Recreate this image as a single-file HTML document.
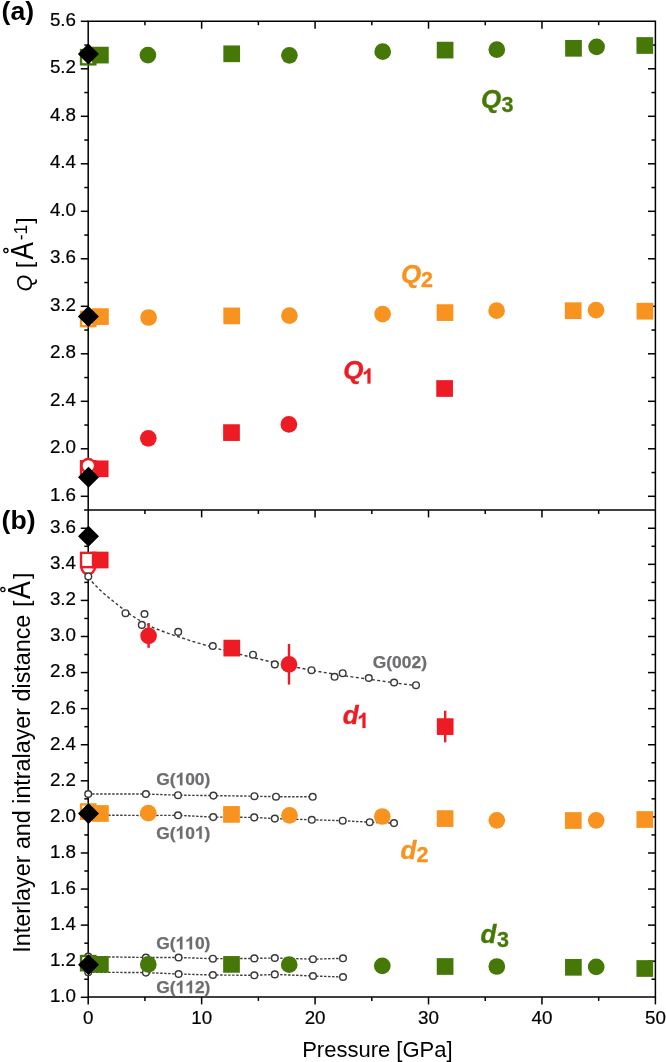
<!DOCTYPE html>
<html><head><meta charset="utf-8"><title>Figure</title>
<style>html,body{margin:0;padding:0;background:#fff}svg{display:block;will-change:transform}text{font-family:'Liberation Sans',sans-serif}</style>
</head><body>
<svg width="666" height="1062" viewBox="0 0 666 1062">
<rect width="666" height="1062" fill="#fff"/>
<path d="M88.20 21.30H655.40V997.00H88.20Z" fill="none" stroke="#000" stroke-width="1.5"/>
<line x1="84.10" y1="510.00" x2="655.40" y2="510.00" stroke="#000" stroke-width="1.5" />
<line x1="88.20" y1="997.00" x2="88.20" y2="1004.40" stroke="#000" stroke-width="1.5" />
<text x="88.20" y="1024.20" font-size="18.8" text-anchor="middle" font-weight="normal" font-style="normal" fill="#000" stroke="#000" stroke-width="0.2">0</text>
<line x1="144.92" y1="21.30" x2="144.92" y2="25.20" stroke="#000" stroke-width="1.5" />
<line x1="144.92" y1="510.00" x2="144.92" y2="513.90" stroke="#000" stroke-width="1.5" />
<line x1="144.92" y1="997.00" x2="144.92" y2="1000.90" stroke="#000" stroke-width="1.5" />
<line x1="201.64" y1="21.30" x2="201.64" y2="28.70" stroke="#000" stroke-width="1.5" />
<line x1="201.64" y1="510.00" x2="201.64" y2="517.40" stroke="#000" stroke-width="1.5" />
<line x1="201.64" y1="997.00" x2="201.64" y2="1004.40" stroke="#000" stroke-width="1.5" />
<text x="201.64" y="1024.20" font-size="18.8" text-anchor="middle" font-weight="normal" font-style="normal" fill="#000" stroke="#000" stroke-width="0.2">10</text>
<line x1="258.36" y1="21.30" x2="258.36" y2="25.20" stroke="#000" stroke-width="1.5" />
<line x1="258.36" y1="510.00" x2="258.36" y2="513.90" stroke="#000" stroke-width="1.5" />
<line x1="258.36" y1="997.00" x2="258.36" y2="1000.90" stroke="#000" stroke-width="1.5" />
<line x1="315.08" y1="21.30" x2="315.08" y2="28.70" stroke="#000" stroke-width="1.5" />
<line x1="315.08" y1="510.00" x2="315.08" y2="517.40" stroke="#000" stroke-width="1.5" />
<line x1="315.08" y1="997.00" x2="315.08" y2="1004.40" stroke="#000" stroke-width="1.5" />
<text x="315.08" y="1024.20" font-size="18.8" text-anchor="middle" font-weight="normal" font-style="normal" fill="#000" stroke="#000" stroke-width="0.2">20</text>
<line x1="371.80" y1="21.30" x2="371.80" y2="25.20" stroke="#000" stroke-width="1.5" />
<line x1="371.80" y1="510.00" x2="371.80" y2="513.90" stroke="#000" stroke-width="1.5" />
<line x1="371.80" y1="997.00" x2="371.80" y2="1000.90" stroke="#000" stroke-width="1.5" />
<line x1="428.52" y1="21.30" x2="428.52" y2="28.70" stroke="#000" stroke-width="1.5" />
<line x1="428.52" y1="510.00" x2="428.52" y2="517.40" stroke="#000" stroke-width="1.5" />
<line x1="428.52" y1="997.00" x2="428.52" y2="1004.40" stroke="#000" stroke-width="1.5" />
<text x="428.52" y="1024.20" font-size="18.8" text-anchor="middle" font-weight="normal" font-style="normal" fill="#000" stroke="#000" stroke-width="0.2">30</text>
<line x1="485.24" y1="21.30" x2="485.24" y2="25.20" stroke="#000" stroke-width="1.5" />
<line x1="485.24" y1="510.00" x2="485.24" y2="513.90" stroke="#000" stroke-width="1.5" />
<line x1="485.24" y1="997.00" x2="485.24" y2="1000.90" stroke="#000" stroke-width="1.5" />
<line x1="541.96" y1="21.30" x2="541.96" y2="28.70" stroke="#000" stroke-width="1.5" />
<line x1="541.96" y1="510.00" x2="541.96" y2="517.40" stroke="#000" stroke-width="1.5" />
<line x1="541.96" y1="997.00" x2="541.96" y2="1004.40" stroke="#000" stroke-width="1.5" />
<text x="541.96" y="1024.20" font-size="18.8" text-anchor="middle" font-weight="normal" font-style="normal" fill="#000" stroke="#000" stroke-width="0.2">40</text>
<line x1="598.68" y1="21.30" x2="598.68" y2="25.20" stroke="#000" stroke-width="1.5" />
<line x1="598.68" y1="510.00" x2="598.68" y2="513.90" stroke="#000" stroke-width="1.5" />
<line x1="598.68" y1="997.00" x2="598.68" y2="1000.90" stroke="#000" stroke-width="1.5" />
<line x1="655.40" y1="997.00" x2="655.40" y2="1004.40" stroke="#000" stroke-width="1.5" />
<text x="655.40" y="1024.20" font-size="18.8" text-anchor="middle" font-weight="normal" font-style="normal" fill="#000" stroke="#000" stroke-width="0.2">50</text>
<line x1="80.80" y1="21.30" x2="88.20" y2="21.30" stroke="#000" stroke-width="1.5" />
<text x="76.00" y="25.80" font-size="18.8" text-anchor="end" font-weight="normal" font-style="normal" fill="#000" stroke="#000" stroke-width="0.2">5.6</text>
<line x1="84.30" y1="45.05" x2="88.20" y2="45.05" stroke="#000" stroke-width="1.5" />
<line x1="651.50" y1="45.05" x2="655.40" y2="45.05" stroke="#000" stroke-width="1.5" />
<line x1="80.80" y1="68.80" x2="88.20" y2="68.80" stroke="#000" stroke-width="1.5" />
<line x1="648.00" y1="68.80" x2="655.40" y2="68.80" stroke="#000" stroke-width="1.5" />
<text x="76.00" y="73.30" font-size="18.8" text-anchor="end" font-weight="normal" font-style="normal" fill="#000" stroke="#000" stroke-width="0.2">5.2</text>
<line x1="84.30" y1="92.55" x2="88.20" y2="92.55" stroke="#000" stroke-width="1.5" />
<line x1="651.50" y1="92.55" x2="655.40" y2="92.55" stroke="#000" stroke-width="1.5" />
<line x1="80.80" y1="116.30" x2="88.20" y2="116.30" stroke="#000" stroke-width="1.5" />
<line x1="648.00" y1="116.30" x2="655.40" y2="116.30" stroke="#000" stroke-width="1.5" />
<text x="76.00" y="120.80" font-size="18.8" text-anchor="end" font-weight="normal" font-style="normal" fill="#000" stroke="#000" stroke-width="0.2">4.8</text>
<line x1="84.30" y1="140.05" x2="88.20" y2="140.05" stroke="#000" stroke-width="1.5" />
<line x1="651.50" y1="140.05" x2="655.40" y2="140.05" stroke="#000" stroke-width="1.5" />
<line x1="80.80" y1="163.80" x2="88.20" y2="163.80" stroke="#000" stroke-width="1.5" />
<line x1="648.00" y1="163.80" x2="655.40" y2="163.80" stroke="#000" stroke-width="1.5" />
<text x="76.00" y="168.30" font-size="18.8" text-anchor="end" font-weight="normal" font-style="normal" fill="#000" stroke="#000" stroke-width="0.2">4.4</text>
<line x1="84.30" y1="187.55" x2="88.20" y2="187.55" stroke="#000" stroke-width="1.5" />
<line x1="651.50" y1="187.55" x2="655.40" y2="187.55" stroke="#000" stroke-width="1.5" />
<line x1="80.80" y1="211.30" x2="88.20" y2="211.30" stroke="#000" stroke-width="1.5" />
<line x1="648.00" y1="211.30" x2="655.40" y2="211.30" stroke="#000" stroke-width="1.5" />
<text x="76.00" y="215.80" font-size="18.8" text-anchor="end" font-weight="normal" font-style="normal" fill="#000" stroke="#000" stroke-width="0.2">4.0</text>
<line x1="84.30" y1="235.05" x2="88.20" y2="235.05" stroke="#000" stroke-width="1.5" />
<line x1="651.50" y1="235.05" x2="655.40" y2="235.05" stroke="#000" stroke-width="1.5" />
<line x1="80.80" y1="258.80" x2="88.20" y2="258.80" stroke="#000" stroke-width="1.5" />
<line x1="648.00" y1="258.80" x2="655.40" y2="258.80" stroke="#000" stroke-width="1.5" />
<text x="76.00" y="263.30" font-size="18.8" text-anchor="end" font-weight="normal" font-style="normal" fill="#000" stroke="#000" stroke-width="0.2">3.6</text>
<line x1="84.30" y1="282.55" x2="88.20" y2="282.55" stroke="#000" stroke-width="1.5" />
<line x1="651.50" y1="282.55" x2="655.40" y2="282.55" stroke="#000" stroke-width="1.5" />
<line x1="80.80" y1="306.30" x2="88.20" y2="306.30" stroke="#000" stroke-width="1.5" />
<line x1="648.00" y1="306.30" x2="655.40" y2="306.30" stroke="#000" stroke-width="1.5" />
<text x="76.00" y="310.80" font-size="18.8" text-anchor="end" font-weight="normal" font-style="normal" fill="#000" stroke="#000" stroke-width="0.2">3.2</text>
<line x1="84.30" y1="330.05" x2="88.20" y2="330.05" stroke="#000" stroke-width="1.5" />
<line x1="651.50" y1="330.05" x2="655.40" y2="330.05" stroke="#000" stroke-width="1.5" />
<line x1="80.80" y1="353.80" x2="88.20" y2="353.80" stroke="#000" stroke-width="1.5" />
<line x1="648.00" y1="353.80" x2="655.40" y2="353.80" stroke="#000" stroke-width="1.5" />
<text x="76.00" y="358.30" font-size="18.8" text-anchor="end" font-weight="normal" font-style="normal" fill="#000" stroke="#000" stroke-width="0.2">2.8</text>
<line x1="84.30" y1="377.55" x2="88.20" y2="377.55" stroke="#000" stroke-width="1.5" />
<line x1="651.50" y1="377.55" x2="655.40" y2="377.55" stroke="#000" stroke-width="1.5" />
<line x1="80.80" y1="401.30" x2="88.20" y2="401.30" stroke="#000" stroke-width="1.5" />
<line x1="648.00" y1="401.30" x2="655.40" y2="401.30" stroke="#000" stroke-width="1.5" />
<text x="76.00" y="405.80" font-size="18.8" text-anchor="end" font-weight="normal" font-style="normal" fill="#000" stroke="#000" stroke-width="0.2">2.4</text>
<line x1="84.30" y1="425.05" x2="88.20" y2="425.05" stroke="#000" stroke-width="1.5" />
<line x1="651.50" y1="425.05" x2="655.40" y2="425.05" stroke="#000" stroke-width="1.5" />
<line x1="80.80" y1="448.80" x2="88.20" y2="448.80" stroke="#000" stroke-width="1.5" />
<line x1="648.00" y1="448.80" x2="655.40" y2="448.80" stroke="#000" stroke-width="1.5" />
<text x="76.00" y="453.30" font-size="18.8" text-anchor="end" font-weight="normal" font-style="normal" fill="#000" stroke="#000" stroke-width="0.2">2.0</text>
<line x1="84.30" y1="472.55" x2="88.20" y2="472.55" stroke="#000" stroke-width="1.5" />
<line x1="651.50" y1="472.55" x2="655.40" y2="472.55" stroke="#000" stroke-width="1.5" />
<line x1="80.80" y1="496.30" x2="88.20" y2="496.30" stroke="#000" stroke-width="1.5" />
<line x1="648.00" y1="496.30" x2="655.40" y2="496.30" stroke="#000" stroke-width="1.5" />
<text x="76.00" y="500.80" font-size="18.8" text-anchor="end" font-weight="normal" font-style="normal" fill="#000" stroke="#000" stroke-width="0.2">1.6</text>
<line x1="80.80" y1="528.26" x2="88.20" y2="528.26" stroke="#000" stroke-width="1.5" />
<line x1="648.00" y1="528.26" x2="655.40" y2="528.26" stroke="#000" stroke-width="1.5" />
<text x="76.00" y="533.16" font-size="18.8" text-anchor="end" font-weight="normal" font-style="normal" fill="#000" stroke="#000" stroke-width="0.2">3.6</text>
<line x1="84.30" y1="546.30" x2="88.20" y2="546.30" stroke="#000" stroke-width="1.5" />
<line x1="651.50" y1="546.30" x2="655.40" y2="546.30" stroke="#000" stroke-width="1.5" />
<line x1="80.80" y1="564.34" x2="88.20" y2="564.34" stroke="#000" stroke-width="1.5" />
<line x1="648.00" y1="564.34" x2="655.40" y2="564.34" stroke="#000" stroke-width="1.5" />
<text x="76.00" y="569.24" font-size="18.8" text-anchor="end" font-weight="normal" font-style="normal" fill="#000" stroke="#000" stroke-width="0.2">3.4</text>
<line x1="84.30" y1="582.38" x2="88.20" y2="582.38" stroke="#000" stroke-width="1.5" />
<line x1="651.50" y1="582.38" x2="655.40" y2="582.38" stroke="#000" stroke-width="1.5" />
<line x1="80.80" y1="600.42" x2="88.20" y2="600.42" stroke="#000" stroke-width="1.5" />
<line x1="648.00" y1="600.42" x2="655.40" y2="600.42" stroke="#000" stroke-width="1.5" />
<text x="76.00" y="605.32" font-size="18.8" text-anchor="end" font-weight="normal" font-style="normal" fill="#000" stroke="#000" stroke-width="0.2">3.2</text>
<line x1="84.30" y1="618.46" x2="88.20" y2="618.46" stroke="#000" stroke-width="1.5" />
<line x1="651.50" y1="618.46" x2="655.40" y2="618.46" stroke="#000" stroke-width="1.5" />
<line x1="80.80" y1="636.50" x2="88.20" y2="636.50" stroke="#000" stroke-width="1.5" />
<line x1="648.00" y1="636.50" x2="655.40" y2="636.50" stroke="#000" stroke-width="1.5" />
<text x="76.00" y="641.40" font-size="18.8" text-anchor="end" font-weight="normal" font-style="normal" fill="#000" stroke="#000" stroke-width="0.2">3.0</text>
<line x1="84.30" y1="654.54" x2="88.20" y2="654.54" stroke="#000" stroke-width="1.5" />
<line x1="651.50" y1="654.54" x2="655.40" y2="654.54" stroke="#000" stroke-width="1.5" />
<line x1="80.80" y1="672.58" x2="88.20" y2="672.58" stroke="#000" stroke-width="1.5" />
<line x1="648.00" y1="672.58" x2="655.40" y2="672.58" stroke="#000" stroke-width="1.5" />
<text x="76.00" y="677.48" font-size="18.8" text-anchor="end" font-weight="normal" font-style="normal" fill="#000" stroke="#000" stroke-width="0.2">2.8</text>
<line x1="84.30" y1="690.62" x2="88.20" y2="690.62" stroke="#000" stroke-width="1.5" />
<line x1="651.50" y1="690.62" x2="655.40" y2="690.62" stroke="#000" stroke-width="1.5" />
<line x1="80.80" y1="708.66" x2="88.20" y2="708.66" stroke="#000" stroke-width="1.5" />
<line x1="648.00" y1="708.66" x2="655.40" y2="708.66" stroke="#000" stroke-width="1.5" />
<text x="76.00" y="713.56" font-size="18.8" text-anchor="end" font-weight="normal" font-style="normal" fill="#000" stroke="#000" stroke-width="0.2">2.6</text>
<line x1="84.30" y1="726.70" x2="88.20" y2="726.70" stroke="#000" stroke-width="1.5" />
<line x1="651.50" y1="726.70" x2="655.40" y2="726.70" stroke="#000" stroke-width="1.5" />
<line x1="80.80" y1="744.74" x2="88.20" y2="744.74" stroke="#000" stroke-width="1.5" />
<line x1="648.00" y1="744.74" x2="655.40" y2="744.74" stroke="#000" stroke-width="1.5" />
<text x="76.00" y="749.64" font-size="18.8" text-anchor="end" font-weight="normal" font-style="normal" fill="#000" stroke="#000" stroke-width="0.2">2.4</text>
<line x1="84.30" y1="762.78" x2="88.20" y2="762.78" stroke="#000" stroke-width="1.5" />
<line x1="651.50" y1="762.78" x2="655.40" y2="762.78" stroke="#000" stroke-width="1.5" />
<line x1="80.80" y1="780.82" x2="88.20" y2="780.82" stroke="#000" stroke-width="1.5" />
<line x1="648.00" y1="780.82" x2="655.40" y2="780.82" stroke="#000" stroke-width="1.5" />
<text x="76.00" y="785.72" font-size="18.8" text-anchor="end" font-weight="normal" font-style="normal" fill="#000" stroke="#000" stroke-width="0.2">2.2</text>
<line x1="84.30" y1="798.86" x2="88.20" y2="798.86" stroke="#000" stroke-width="1.5" />
<line x1="651.50" y1="798.86" x2="655.40" y2="798.86" stroke="#000" stroke-width="1.5" />
<line x1="80.80" y1="816.90" x2="88.20" y2="816.90" stroke="#000" stroke-width="1.5" />
<line x1="648.00" y1="816.90" x2="655.40" y2="816.90" stroke="#000" stroke-width="1.5" />
<text x="76.00" y="821.80" font-size="18.8" text-anchor="end" font-weight="normal" font-style="normal" fill="#000" stroke="#000" stroke-width="0.2">2.0</text>
<line x1="84.30" y1="834.94" x2="88.20" y2="834.94" stroke="#000" stroke-width="1.5" />
<line x1="651.50" y1="834.94" x2="655.40" y2="834.94" stroke="#000" stroke-width="1.5" />
<line x1="80.80" y1="852.98" x2="88.20" y2="852.98" stroke="#000" stroke-width="1.5" />
<line x1="648.00" y1="852.98" x2="655.40" y2="852.98" stroke="#000" stroke-width="1.5" />
<text x="76.00" y="857.88" font-size="18.8" text-anchor="end" font-weight="normal" font-style="normal" fill="#000" stroke="#000" stroke-width="0.2">1.8</text>
<line x1="84.30" y1="871.02" x2="88.20" y2="871.02" stroke="#000" stroke-width="1.5" />
<line x1="651.50" y1="871.02" x2="655.40" y2="871.02" stroke="#000" stroke-width="1.5" />
<line x1="80.80" y1="889.06" x2="88.20" y2="889.06" stroke="#000" stroke-width="1.5" />
<line x1="648.00" y1="889.06" x2="655.40" y2="889.06" stroke="#000" stroke-width="1.5" />
<text x="76.00" y="893.96" font-size="18.8" text-anchor="end" font-weight="normal" font-style="normal" fill="#000" stroke="#000" stroke-width="0.2">1.6</text>
<line x1="84.30" y1="907.10" x2="88.20" y2="907.10" stroke="#000" stroke-width="1.5" />
<line x1="651.50" y1="907.10" x2="655.40" y2="907.10" stroke="#000" stroke-width="1.5" />
<line x1="80.80" y1="925.14" x2="88.20" y2="925.14" stroke="#000" stroke-width="1.5" />
<line x1="648.00" y1="925.14" x2="655.40" y2="925.14" stroke="#000" stroke-width="1.5" />
<text x="76.00" y="930.04" font-size="18.8" text-anchor="end" font-weight="normal" font-style="normal" fill="#000" stroke="#000" stroke-width="0.2">1.4</text>
<line x1="84.30" y1="943.18" x2="88.20" y2="943.18" stroke="#000" stroke-width="1.5" />
<line x1="651.50" y1="943.18" x2="655.40" y2="943.18" stroke="#000" stroke-width="1.5" />
<line x1="80.80" y1="961.22" x2="88.20" y2="961.22" stroke="#000" stroke-width="1.5" />
<line x1="648.00" y1="961.22" x2="655.40" y2="961.22" stroke="#000" stroke-width="1.5" />
<text x="76.00" y="966.12" font-size="18.8" text-anchor="end" font-weight="normal" font-style="normal" fill="#000" stroke="#000" stroke-width="0.2">1.2</text>
<line x1="84.30" y1="979.26" x2="88.20" y2="979.26" stroke="#000" stroke-width="1.5" />
<line x1="651.50" y1="979.26" x2="655.40" y2="979.26" stroke="#000" stroke-width="1.5" />
<line x1="80.80" y1="997.30" x2="88.20" y2="997.30" stroke="#000" stroke-width="1.5" />
<text x="76.00" y="1002.20" font-size="18.8" text-anchor="end" font-weight="normal" font-style="normal" fill="#000" stroke="#000" stroke-width="0.2">1.0</text>
<path d="M88.20 577.50L94.00 584.00L100.00 590.00L106.00 595.30L112.00 600.20L118.00 605.00L125.00 610.50L131.00 615.00L138.00 619.50L145.00 623.50L153.00 627.50L160.70 630.60L170.00 634.00L180.00 637.30L193.00 641.50L205.00 645.00L218.00 648.70L230.00 651.80L241.80 654.80L253.00 657.60L263.40 660.00L275.00 662.80L290.00 666.00L305.00 669.00L320.00 671.80L335.00 674.30L350.00 676.60L368.80 679.20L385.00 681.50L400.00 683.60L416.00 685.60" fill="none" stroke="#3a3a3a" stroke-width="1.4" stroke-dasharray="3 2.4"/>
<path d="M88.20 794.00L145.90 794.00L178.00 795.20L213.40 795.60L254.40 796.20L276.00 796.70L312.70 796.80" fill="none" stroke="#3a3a3a" stroke-width="1.4" stroke-dasharray="2.4 1.6"/>
<path d="M88.20 815.00L145.90 815.50L178.00 815.30L213.20 817.10L254.20 817.40L274.80 818.60L311.80 819.80L342.70 820.70L369.70 822.20L394.00 823.10" fill="none" stroke="#3a3a3a" stroke-width="1.4" stroke-dasharray="2.4 1.6"/>
<path d="M88.20 956.60L145.90 957.50L178.60 957.50L212.90 958.70L254.30 958.40L274.80 958.00L313.00 959.20L343.00 958.30" fill="none" stroke="#3a3a3a" stroke-width="1.4" stroke-dasharray="2.4 1.6"/>
<path d="M88.20 972.20L145.90 972.60L178.60 974.00L212.90 975.00L254.30 975.30L274.80 974.40L313.00 976.00L343.00 977.00" fill="none" stroke="#3a3a3a" stroke-width="1.4" stroke-dasharray="2.4 1.6"/>
<circle cx="125.50" cy="613.20" r="3.3249999999999997" fill="#fff" stroke="#3a3a3a" stroke-width="1.45"/>
<circle cx="144.50" cy="614.00" r="3.3249999999999997" fill="#fff" stroke="#3a3a3a" stroke-width="1.45"/>
<circle cx="141.80" cy="624.90" r="3.3249999999999997" fill="#fff" stroke="#3a3a3a" stroke-width="1.45"/>
<circle cx="178.20" cy="631.90" r="3.3249999999999997" fill="#fff" stroke="#3a3a3a" stroke-width="1.45"/>
<circle cx="212.80" cy="646.00" r="3.3249999999999997" fill="#fff" stroke="#3a3a3a" stroke-width="1.45"/>
<circle cx="253.00" cy="654.70" r="3.3249999999999997" fill="#fff" stroke="#3a3a3a" stroke-width="1.45"/>
<circle cx="274.80" cy="664.40" r="3.3249999999999997" fill="#fff" stroke="#3a3a3a" stroke-width="1.45"/>
<circle cx="311.50" cy="670.20" r="3.3249999999999997" fill="#fff" stroke="#3a3a3a" stroke-width="1.45"/>
<circle cx="334.60" cy="676.80" r="3.3249999999999997" fill="#fff" stroke="#3a3a3a" stroke-width="1.45"/>
<circle cx="342.70" cy="673.20" r="3.3249999999999997" fill="#fff" stroke="#3a3a3a" stroke-width="1.45"/>
<circle cx="368.80" cy="678.00" r="3.3249999999999997" fill="#fff" stroke="#3a3a3a" stroke-width="1.45"/>
<circle cx="394.10" cy="682.50" r="3.3249999999999997" fill="#fff" stroke="#3a3a3a" stroke-width="1.45"/>
<circle cx="416.00" cy="685.20" r="3.3249999999999997" fill="#fff" stroke="#3a3a3a" stroke-width="1.45"/>
<circle cx="88.20" cy="794.00" r="3.3249999999999997" fill="#fff" stroke="#3a3a3a" stroke-width="1.45"/>
<circle cx="145.90" cy="794.00" r="3.3249999999999997" fill="#fff" stroke="#3a3a3a" stroke-width="1.45"/>
<circle cx="178.00" cy="795.20" r="3.3249999999999997" fill="#fff" stroke="#3a3a3a" stroke-width="1.45"/>
<circle cx="213.40" cy="795.60" r="3.3249999999999997" fill="#fff" stroke="#3a3a3a" stroke-width="1.45"/>
<circle cx="254.40" cy="796.20" r="3.3249999999999997" fill="#fff" stroke="#3a3a3a" stroke-width="1.45"/>
<circle cx="276.00" cy="796.70" r="3.3249999999999997" fill="#fff" stroke="#3a3a3a" stroke-width="1.45"/>
<circle cx="312.70" cy="796.80" r="3.3249999999999997" fill="#fff" stroke="#3a3a3a" stroke-width="1.45"/>
<circle cx="88.20" cy="815.00" r="3.3249999999999997" fill="#fff" stroke="#3a3a3a" stroke-width="1.45"/>
<circle cx="145.90" cy="815.50" r="3.3249999999999997" fill="#fff" stroke="#3a3a3a" stroke-width="1.45"/>
<circle cx="178.00" cy="815.30" r="3.3249999999999997" fill="#fff" stroke="#3a3a3a" stroke-width="1.45"/>
<circle cx="213.20" cy="817.10" r="3.3249999999999997" fill="#fff" stroke="#3a3a3a" stroke-width="1.45"/>
<circle cx="254.20" cy="817.40" r="3.3249999999999997" fill="#fff" stroke="#3a3a3a" stroke-width="1.45"/>
<circle cx="274.80" cy="818.60" r="3.3249999999999997" fill="#fff" stroke="#3a3a3a" stroke-width="1.45"/>
<circle cx="311.80" cy="819.80" r="3.3249999999999997" fill="#fff" stroke="#3a3a3a" stroke-width="1.45"/>
<circle cx="342.70" cy="820.70" r="3.3249999999999997" fill="#fff" stroke="#3a3a3a" stroke-width="1.45"/>
<circle cx="369.70" cy="822.20" r="3.3249999999999997" fill="#fff" stroke="#3a3a3a" stroke-width="1.45"/>
<circle cx="394.00" cy="823.10" r="3.3249999999999997" fill="#fff" stroke="#3a3a3a" stroke-width="1.45"/>
<circle cx="88.20" cy="956.60" r="3.3249999999999997" fill="#fff" stroke="#3a3a3a" stroke-width="1.45"/>
<circle cx="145.90" cy="957.50" r="3.3249999999999997" fill="#fff" stroke="#3a3a3a" stroke-width="1.45"/>
<circle cx="178.60" cy="957.50" r="3.3249999999999997" fill="#fff" stroke="#3a3a3a" stroke-width="1.45"/>
<circle cx="212.90" cy="958.70" r="3.3249999999999997" fill="#fff" stroke="#3a3a3a" stroke-width="1.45"/>
<circle cx="254.30" cy="958.40" r="3.3249999999999997" fill="#fff" stroke="#3a3a3a" stroke-width="1.45"/>
<circle cx="274.80" cy="958.00" r="3.3249999999999997" fill="#fff" stroke="#3a3a3a" stroke-width="1.45"/>
<circle cx="313.00" cy="959.20" r="3.3249999999999997" fill="#fff" stroke="#3a3a3a" stroke-width="1.45"/>
<circle cx="343.00" cy="958.30" r="3.3249999999999997" fill="#fff" stroke="#3a3a3a" stroke-width="1.45"/>
<circle cx="88.20" cy="972.20" r="3.3249999999999997" fill="#fff" stroke="#3a3a3a" stroke-width="1.45"/>
<circle cx="145.90" cy="972.60" r="3.3249999999999997" fill="#fff" stroke="#3a3a3a" stroke-width="1.45"/>
<circle cx="178.60" cy="974.00" r="3.3249999999999997" fill="#fff" stroke="#3a3a3a" stroke-width="1.45"/>
<circle cx="212.90" cy="975.00" r="3.3249999999999997" fill="#fff" stroke="#3a3a3a" stroke-width="1.45"/>
<circle cx="254.30" cy="975.30" r="3.3249999999999997" fill="#fff" stroke="#3a3a3a" stroke-width="1.45"/>
<circle cx="274.80" cy="974.40" r="3.3249999999999997" fill="#fff" stroke="#3a3a3a" stroke-width="1.45"/>
<circle cx="313.00" cy="976.00" r="3.3249999999999997" fill="#fff" stroke="#3a3a3a" stroke-width="1.45"/>
<circle cx="343.00" cy="977.00" r="3.3249999999999997" fill="#fff" stroke="#3a3a3a" stroke-width="1.45"/>
<rect x="81.05" y="50.05" width="14.299999999999999" height="14.299999999999999" fill="#fff" stroke="#467808" stroke-width="2.4"/>
<rect x="92.05" y="46.75" width="16.7" height="16.7" fill="#467808"/>
<circle cx="147.90" cy="55.10" r="8.35" fill="#467808"/>
<rect x="223.35" y="45.45" width="16.7" height="16.7" fill="#467808"/>
<circle cx="289.40" cy="55.30" r="8.35" fill="#467808"/>
<circle cx="382.70" cy="51.70" r="8.35" fill="#467808"/>
<rect x="436.75" y="41.75" width="16.7" height="16.7" fill="#467808"/>
<circle cx="496.80" cy="49.60" r="8.35" fill="#467808"/>
<rect x="565.15" y="39.95" width="16.7" height="16.7" fill="#467808"/>
<circle cx="596.60" cy="46.80" r="8.35" fill="#467808"/>
<rect x="636.45" y="37.15" width="16.7" height="16.7" fill="#467808"/>
<path d="M77.90 53.90L88.40 43.40L98.90 53.90L88.40 64.40Z" fill="#000"/>
<rect x="81.05" y="311.85" width="14.299999999999999" height="14.299999999999999" fill="#fff" stroke="#f7931e" stroke-width="2.4"/>
<rect x="92.05" y="308.25" width="16.7" height="16.7" fill="#f7931e"/>
<circle cx="148.60" cy="317.50" r="8.35" fill="#f7931e"/>
<rect x="223.35" y="307.55" width="16.7" height="16.7" fill="#f7931e"/>
<circle cx="289.40" cy="315.70" r="8.35" fill="#f7931e"/>
<circle cx="382.60" cy="314.10" r="8.35" fill="#f7931e"/>
<rect x="436.65" y="304.25" width="16.7" height="16.7" fill="#f7931e"/>
<circle cx="496.60" cy="310.70" r="8.35" fill="#f7931e"/>
<rect x="564.85" y="302.35" width="16.7" height="16.7" fill="#f7931e"/>
<circle cx="596.00" cy="310.20" r="8.35" fill="#f7931e"/>
<rect x="636.55" y="302.85" width="16.7" height="16.7" fill="#f7931e"/>
<path d="M77.90 316.40L88.40 305.90L98.90 316.40L88.40 326.90Z" fill="#000"/>
<rect x="91.85" y="460.45" width="16.7" height="16.7" fill="#ed1c24"/>
<rect x="81.05" y="461.25" width="14.299999999999999" height="14.299999999999999" fill="#fff" stroke="#ed1c24" stroke-width="2.4"/>
<circle cx="88.30" cy="465.80" r="6.8" fill="#fff" stroke="#ed1c24" stroke-width="2.4"/>
<circle cx="148.30" cy="438.30" r="8.35" fill="#ed1c24"/>
<rect x="223.15" y="424.25" width="16.7" height="16.7" fill="#ed1c24"/>
<circle cx="288.90" cy="424.40" r="8.35" fill="#ed1c24"/>
<rect x="436.25" y="380.15" width="16.7" height="16.7" fill="#ed1c24"/>
<path d="M78.00 477.20L88.50 466.70L99.00 477.20L88.50 487.70Z" fill="#000"/>
<circle cx="88.20" cy="567.30" r="6.8" fill="#fff" stroke="#ed1c24" stroke-width="2.4"/>
<rect x="81.05" y="552.85" width="14.299999999999999" height="14.299999999999999" fill="#fff" stroke="#ed1c24" stroke-width="2.4"/>
<rect x="91.85" y="551.65" width="16.7" height="16.7" fill="#ed1c24"/>
<circle cx="88.30" cy="576.40" r="3.3249999999999997" fill="#fff" stroke="#3a3a3a" stroke-width="1.45"/>
<line x1="148.60" y1="623.00" x2="148.60" y2="647.80" stroke="#ed1c24" stroke-width="2.5" />
<circle cx="148.60" cy="635.80" r="8.35" fill="#ed1c24"/>
<rect x="223.45" y="639.75" width="16.7" height="16.7" fill="#ed1c24"/>
<line x1="289.00" y1="644.00" x2="289.00" y2="684.60" stroke="#ed1c24" stroke-width="2.4" />
<circle cx="289.00" cy="664.40" r="8.35" fill="#ed1c24"/>
<line x1="445.20" y1="710.70" x2="445.20" y2="742.30" stroke="#ed1c24" stroke-width="2.4" />
<rect x="436.85" y="718.25" width="16.7" height="16.7" fill="#ed1c24"/>
<path d="M78.00 536.30L88.50 525.80L99.00 536.30L88.50 546.80Z" fill="#000"/>
<rect x="81.05" y="804.45" width="14.299999999999999" height="14.299999999999999" fill="#fff" stroke="#f7931e" stroke-width="2.4"/>
<rect x="92.05" y="805.15" width="16.7" height="16.7" fill="#f7931e"/>
<circle cx="148.30" cy="813.20" r="8.35" fill="#f7931e"/>
<rect x="223.15" y="806.05" width="16.7" height="16.7" fill="#f7931e"/>
<circle cx="289.50" cy="815.30" r="8.35" fill="#f7931e"/>
<circle cx="382.30" cy="816.50" r="8.35" fill="#f7931e"/>
<rect x="436.75" y="810.25" width="16.7" height="16.7" fill="#f7931e"/>
<circle cx="496.80" cy="820.30" r="8.35" fill="#f7931e"/>
<rect x="564.95" y="812.15" width="16.7" height="16.7" fill="#f7931e"/>
<circle cx="596.20" cy="820.30" r="8.35" fill="#f7931e"/>
<rect x="636.45" y="811.15" width="16.7" height="16.7" fill="#f7931e"/>
<path d="M78.00 813.50L88.50 803.00L99.00 813.50L88.50 824.00Z" fill="#000"/>
<rect x="81.05" y="956.05" width="14.299999999999999" height="14.299999999999999" fill="#fff" stroke="#467808" stroke-width="2.4"/>
<rect x="92.05" y="956.05" width="16.7" height="16.7" fill="#467808"/>
<circle cx="148.30" cy="964.40" r="8.35" fill="#467808"/>
<rect x="223.15" y="956.05" width="16.7" height="16.7" fill="#467808"/>
<circle cx="289.20" cy="964.70" r="8.35" fill="#467808"/>
<circle cx="382.30" cy="965.90" r="8.35" fill="#467808"/>
<rect x="436.75" y="958.15" width="16.7" height="16.7" fill="#467808"/>
<circle cx="496.80" cy="966.50" r="8.35" fill="#467808"/>
<rect x="565.05" y="958.95" width="16.7" height="16.7" fill="#467808"/>
<circle cx="596.20" cy="966.90" r="8.35" fill="#467808"/>
<rect x="636.45" y="960.15" width="16.7" height="16.7" fill="#467808"/>
<path d="M78.00 964.80L88.50 954.30L99.00 964.80L88.50 975.30Z" fill="#000"/>
<text x="1.60" y="20.20" font-size="26.6" text-anchor="start" font-weight="bold" font-style="normal" fill="#000" >(a)</text>
<text x="1.60" y="529.40" font-size="26.6" text-anchor="start" font-weight="bold" font-style="normal" fill="#000" >(b)</text>
<text x="302.20" y="1057.00" font-size="22" text-anchor="start" font-weight="normal" font-style="normal" fill="#000" >Pressure [GPa]</text>
<text transform="translate(31.80 291.60) rotate(-90)" font-size="21.5" font-style="italic">Q</text>
<text transform="translate(31.50 267.90) rotate(-90)" font-size="22.5" >[</text>
<text transform="translate(32.60 259.40) rotate(-90) scale(0.9 1.07)" font-size="29" >A</text>
<circle cx="5.90" cy="250.60" r="2.1" fill="none" stroke="#000" stroke-width="1.3"/>
<text transform="translate(27.10 240.30) rotate(-90)" font-size="17.5" >-1</text>
<text transform="translate(31.50 223.70) rotate(-90)" font-size="22.5" >]</text>
<text transform="translate(29.70 952.70) rotate(-90)" font-size="23.3" >Interlayer and intralayer distance</text>
<text transform="translate(28.50 606.80) rotate(-90)" font-size="22.5" >[</text>
<text transform="translate(29.90 598.90) rotate(-90) scale(0.92 1.09)" font-size="29" >A</text>
<circle cx="2.90" cy="589.60" r="2.1" fill="none" stroke="#000" stroke-width="1.3"/>
<text transform="translate(28.50 579.10) rotate(-90)" font-size="22.5" >]</text>
<text x="480.90" y="107.60" font-size="26" font-weight="bold" font-style="italic" fill="#467808" stroke="#467808" stroke-width="0.35">Q</text>
<text x="501.40" y="112.00" font-size="21.5" font-weight="bold" fill="#467808" stroke="#467808" stroke-width="0.3">3</text>
<text x="400.90" y="282.90" font-size="26" font-weight="bold" font-style="italic" fill="#f7931e" stroke="#f7931e" stroke-width="0.35">Q</text>
<text x="421.00" y="286.50" font-size="21.5" font-weight="bold" fill="#f7931e" stroke="#f7931e" stroke-width="0.3">2</text>
<text x="343.20" y="379.00" font-size="26" font-weight="bold" font-style="italic" fill="#ed1c24" stroke="#ed1c24" stroke-width="0.35">Q</text>
<path transform="translate(362.20 383.50) scale(20.9)" d="M0.394 0H0.256V-0.517Q0.181 -0.447 0.079 -0.413V-0.538Q0.133 -0.555 0.196 -0.604Q0.259 -0.653 0.282 -0.719H0.394Z" fill="#ed1c24" stroke="#ed1c24" stroke-width="0.0144"/>
<text x="342.80" y="723.80" font-size="26" font-weight="bold" font-style="italic" fill="#ed1c24" stroke="#ed1c24" stroke-width="0.35">d</text>
<path transform="translate(357.20 727.90) scale(20.9)" d="M0.394 0H0.256V-0.517Q0.181 -0.447 0.079 -0.413V-0.538Q0.133 -0.555 0.196 -0.604Q0.259 -0.653 0.282 -0.719H0.394Z" fill="#ed1c24" stroke="#ed1c24" stroke-width="0.0144"/>
<text x="400.50" y="858.60" font-size="26" font-weight="bold" font-style="italic" fill="#f7931e" stroke="#f7931e" stroke-width="0.35">d</text>
<text x="416.40" y="862.00" font-size="21.5" font-weight="bold" fill="#f7931e" stroke="#f7931e" stroke-width="0.3">2</text>
<text x="480.50" y="943.40" font-size="26" font-weight="bold" font-style="italic" fill="#467808" stroke="#467808" stroke-width="0.35">d</text>
<text x="496.90" y="947.00" font-size="21.5" font-weight="bold" fill="#467808" stroke="#467808" stroke-width="0.3">3</text>
<text x="372.80" y="667.80" font-size="17.4" font-weight="bold" fill="#6d6e70" stroke="#6d6e70" stroke-width="0.25">G(002)</text>
<text x="156.20" y="785.20" font-size="17.4" font-weight="bold" fill="#6d6e70" stroke="#6d6e70" stroke-width="0.25">G(</text>
<path transform="translate(175.53 785.20) scale(17.4)" d="M0.394 0H0.256V-0.517Q0.181 -0.447 0.079 -0.413V-0.538Q0.133 -0.555 0.196 -0.604Q0.259 -0.653 0.282 -0.719H0.394Z" fill="#6d6e70" stroke="#6d6e70" stroke-width="0.0144"/>
<text x="185.21" y="785.20" font-size="17.4" font-weight="bold" fill="#6d6e70" stroke="#6d6e70" stroke-width="0.25">00)</text>
<text x="156.20" y="838.70" font-size="17.4" font-weight="bold" fill="#6d6e70" stroke="#6d6e70" stroke-width="0.25">G(</text>
<path transform="translate(175.53 838.70) scale(17.4)" d="M0.394 0H0.256V-0.517Q0.181 -0.447 0.079 -0.413V-0.538Q0.133 -0.555 0.196 -0.604Q0.259 -0.653 0.282 -0.719H0.394Z" fill="#6d6e70" stroke="#6d6e70" stroke-width="0.0144"/>
<text x="185.21" y="838.70" font-size="17.4" font-weight="bold" fill="#6d6e70" stroke="#6d6e70" stroke-width="0.25">0</text>
<path transform="translate(194.88 838.70) scale(17.4)" d="M0.394 0H0.256V-0.517Q0.181 -0.447 0.079 -0.413V-0.538Q0.133 -0.555 0.196 -0.604Q0.259 -0.653 0.282 -0.719H0.394Z" fill="#6d6e70" stroke="#6d6e70" stroke-width="0.0144"/>
<text x="204.55" y="838.70" font-size="17.4" font-weight="bold" fill="#6d6e70" stroke="#6d6e70" stroke-width="0.25">)</text>
<text x="156.20" y="949.20" font-size="17.4" font-weight="bold" fill="#6d6e70" stroke="#6d6e70" stroke-width="0.25">G(</text>
<path transform="translate(175.53 949.20) scale(17.4)" d="M0.394 0H0.256V-0.517Q0.181 -0.447 0.079 -0.413V-0.538Q0.133 -0.555 0.196 -0.604Q0.259 -0.653 0.282 -0.719H0.394Z" fill="#6d6e70" stroke="#6d6e70" stroke-width="0.0144"/>
<path transform="translate(185.21 949.20) scale(17.4)" d="M0.394 0H0.256V-0.517Q0.181 -0.447 0.079 -0.413V-0.538Q0.133 -0.555 0.196 -0.604Q0.259 -0.653 0.282 -0.719H0.394Z" fill="#6d6e70" stroke="#6d6e70" stroke-width="0.0144"/>
<text x="194.88" y="949.20" font-size="17.4" font-weight="bold" fill="#6d6e70" stroke="#6d6e70" stroke-width="0.25">0)</text>
<text x="156.20" y="993.20" font-size="17.4" font-weight="bold" fill="#6d6e70" stroke="#6d6e70" stroke-width="0.25">G(</text>
<path transform="translate(175.53 993.20) scale(17.4)" d="M0.394 0H0.256V-0.517Q0.181 -0.447 0.079 -0.413V-0.538Q0.133 -0.555 0.196 -0.604Q0.259 -0.653 0.282 -0.719H0.394Z" fill="#6d6e70" stroke="#6d6e70" stroke-width="0.0144"/>
<path transform="translate(185.21 993.20) scale(17.4)" d="M0.394 0H0.256V-0.517Q0.181 -0.447 0.079 -0.413V-0.538Q0.133 -0.555 0.196 -0.604Q0.259 -0.653 0.282 -0.719H0.394Z" fill="#6d6e70" stroke="#6d6e70" stroke-width="0.0144"/>
<text x="194.88" y="993.20" font-size="17.4" font-weight="bold" fill="#6d6e70" stroke="#6d6e70" stroke-width="0.25">2)</text>
</svg></body></html>
